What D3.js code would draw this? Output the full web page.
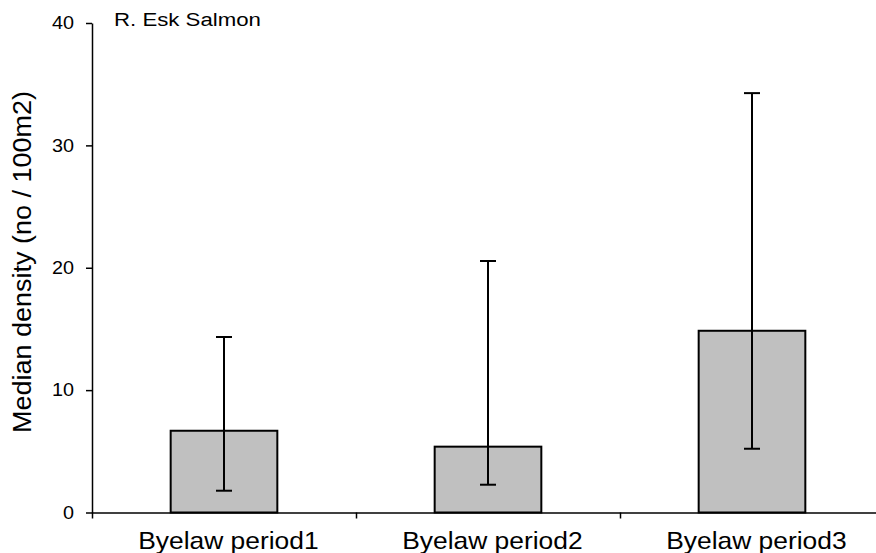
<!DOCTYPE html>
<html>
<head>
<meta charset="utf-8">
<script src="https://cdn.jsdelivr.net/npm/d3@7"></script>
<style>
	body { margin: 0; background: #fff; }
	text { font-family: "Liberation Sans", Arial, sans-serif; fill: #000; }
</style>
</head>
<body>
<script>

let width = 876;
let height = 553;

let margins = {
	top: 23,
	right: -8,
	bottom: 40.5,
	left: 92
};

// the original text is drawn a little wider than Arial
let stretch = 1.1;

// data
let categories = ["Byelaw period1", "Byelaw period2", "Byelaw period3"];
let medians = [6.68, 5.38, 14.85];
let lowerErr = [1.78, 2.27, 5.21];
let upperErr = [14.34, 20.55, 34.27];
let yTicks = [0, 10, 20, 30, 40];

let data = categories.map((c, i) => ({
	cat: c,
	value: medians[i],
	lo: lowerErr[i],
	hi: upperErr[i]
}));

let xScale = d3.scaleBand()
	.domain(categories)
	.range([margins.left, width - margins.right])
	.paddingInner(0.596)
	.paddingOuter(0.298);

// category boundaries for the tick marks
let xEdge = d3.scaleLinear()
	.domain([0, categories.length])
	.range([margins.left, width - margins.right]);

let yScale = d3.scaleLinear()
	.domain([0, 40])
	.range([height - margins.bottom, margins.top]);

let svg = d3.select("body")
	.append("svg")
		.attr("width", width)
		.attr("height", height);

// bars
svg.selectAll("rect.bar")
	.data(data)
	.enter()
	.append("rect")
		.attr("class", "bar")
		.attr("x", d => xScale(d.cat))
		.attr("y", d => yScale(d.value))
		.attr("width", xScale.bandwidth())
		.attr("height", d => yScale(0) - yScale(d.value))
		.style("fill", "#c0c0c0")
		.style("stroke", "#000")
		.style("stroke-width", "2px");

// error bars
let capW = 8;
let errs = svg.selectAll("g.err")
	.data(data)
	.enter()
	.append("g")
		.attr("class", "err")
		.style("stroke", "#000")
		.style("stroke-width", "2px");

errs.append("line")
	.attr("x1", d => xScale(d.cat) + xScale.bandwidth() / 2)
	.attr("x2", d => xScale(d.cat) + xScale.bandwidth() / 2)
	.attr("y1", d => yScale(d.lo))
	.attr("y2", d => yScale(d.hi));

errs.selectAll("line.cap")
	.data(d => [d.lo, d.hi].map(v => ({ cat: d.cat, v: v })))
	.enter()
	.append("line")
		.attr("class", "cap")
		.attr("x1", d => xScale(d.cat) + xScale.bandwidth() / 2 - capW)
		.attr("x2", d => xScale(d.cat) + xScale.bandwidth() / 2 + capW)
		.attr("y1", d => yScale(d.v))
		.attr("y2", d => yScale(d.v));

// x axis: line + boundary ticks
let xAxis = d3.axisBottom(xEdge)
	.tickValues(d3.range(categories.length + 1))
	.tickFormat("")
	.tickSizeInner(6)
	.tickSizeOuter(0);

let gx = svg.append("g")
	.attr("class", "x axis")
	.attr("transform", "translate(0," + yScale(0) + ")")
	.call(xAxis);
gx.selectAll("path, line").style("stroke", "#000").style("stroke-width", "1.5px");

// category labels (sit a touch right of the bar centres in the original)
let gxl = svg.append("g")
	.attr("class", "x labels")
	.attr("transform", "translate(0," + yScale(0) + ")")
	.call(d3.axisBottom(xScale).tickSize(0).tickPadding(19));
gxl.select(".domain").remove();
gxl.selectAll("text")
	.attr("x", 4)
	.attr("transform", "scale(" + stretch + ",1)")
	.style("font-size", "24px")
	.style("font-family", "'Liberation Sans', Arial, sans-serif");

// y axis
let yAxis = d3.axisLeft(yScale)
	.tickValues(yTicks)
	.tickSizeInner(6)
	.tickSizeOuter(0)
	.tickPadding(13);

let gy = svg.append("g")
	.attr("class", "y axis")
	.attr("transform", "translate(" + margins.left + ",0)")
	.call(yAxis);
gy.selectAll("path, line").style("stroke", "#000").style("stroke-width", "1.5px");
gy.selectAll("text")
	.attr("x", -18 / stretch)
	.attr("transform", "scale(" + stretch + ",1)")
	.style("font-size", "18px")
	.style("font-family", "'Liberation Sans', Arial, sans-serif");

// y axis title
svg.append("text")
	.attr("transform", "translate(31,262) rotate(-90) scale(1.08,1)")
	.attr("text-anchor", "middle")
	.style("font-size", "25px")
	.text("Median density (no / 100m2)");

// chart title
svg.append("text")
	.attr("transform", "translate(114,26) scale(1.17,1)")
	.style("font-size", "19px")
	.text("R. Esk Salmon");

</script>
</body>
</html>
